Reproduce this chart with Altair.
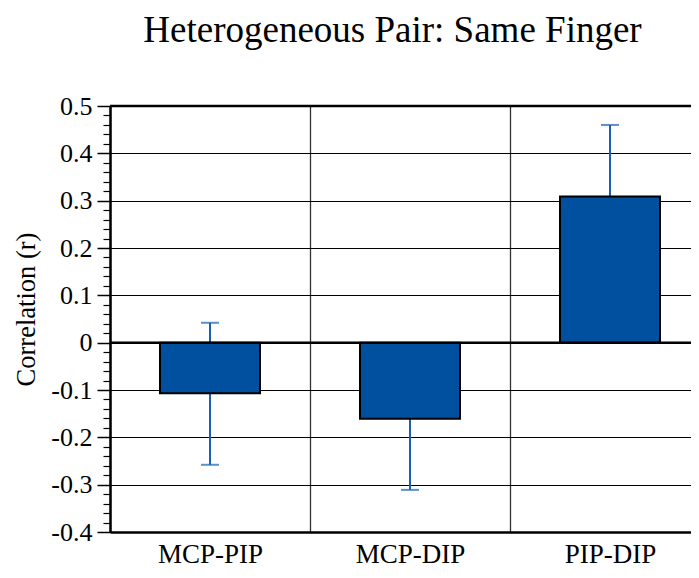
import altair as alt
import pandas as pd

pairs = ["MCP-PIP", "MCP-DIP", "PIP-DIP"]
corr = [-0.107, -0.161, 0.309]
err_lo = [-0.258, -0.311, 0.157]
err_hi = [0.042, -0.012, 0.460]

major_ticks = [-0.4, -0.3, -0.2, -0.1, 0.0, 0.1, 0.2, 0.3, 0.4, 0.5]
minor_ticks = [round(-0.4 + 0.02 * i, 2) for i in range(46)]
minor_ticks = [v for v in minor_ticks if abs(v * 10 - round(v * 10)) > 1e-6]
frame_lines = [0.0, 0.5]

FONT = "Liberation Serif"
BAR = "#00509f"
ERR = "#1a5fb2"

df = pd.DataFrame({"pair": pairs, "r": corr, "lo": err_lo, "hi": err_hi})
lines_df = pd.DataFrame({"y": frame_lines})

xscale = alt.Scale(domain=pairs, range=[0, 600], paddingInner=0, paddingOuter=0)
yscale = alt.Scale(domain=[-0.4, 0.5], nice=False, zero=False)

x_axis = alt.Axis(
    title=None, labelAngle=0, ticks=False, labelPadding=30,
    labelBaseline="alphabetic",
    labelFont=FONT, labelFontSize=27, labelColor="black",
    domainColor="black", domainWidth=2.5,
    grid=True, gridColor="#333333", gridWidth=1.3, tickBand="extent",
)
x_enc = alt.X("pair:N", scale=xscale, sort=pairs, axis=x_axis)

main_axis = alt.Axis(
    values=major_ticks,
    labelExpr="datum.value == 0 ? '0' : (datum.value < 0 ? '-' : '') + format(abs(datum.value), '.1f')",
    title="Correlation (r)", titleFont=FONT, titleFontSize=26.5,
    titleFontWeight="normal", titleColor="black", titlePadding=10, titleY=203,
    labelFont=FONT, labelFontSize=26, labelColor="black", labelPadding=5,
    tickSize=13, tickColor="black", tickWidth=1.5,
    domainColor="black", domainWidth=2.5,
    grid=True, gridColor="black", gridWidth=1.2, orient="left",
)
minor_axis = alt.Axis(
    values=minor_ticks, labels=False, title=None, domain=False, grid=False,
    tickSize=7, tickColor="black", tickWidth=1.2, orient="left",
)

base = alt.Chart(df)

err_rule = base.mark_rule(color=ERR, strokeWidth=2).encode(
    x=x_enc,
    y=alt.Y("lo:Q", scale=yscale, axis=minor_axis),
    y2="hi:Q",
)
cap_lo = base.mark_tick(color=ERR, thickness=2, size=18).encode(
    x=x_enc, y=alt.Y("lo:Q", scale=yscale, axis=None)
)
cap_hi = base.mark_tick(color=ERR, thickness=2, size=18).encode(
    x=x_enc, y=alt.Y("hi:Q", scale=yscale, axis=None)
)
bars = base.mark_bar(
    color=BAR, stroke="black", strokeWidth=2, width=alt.RelativeBandSize(0.5)
).encode(
    x=x_enc,
    y=alt.Y("r:Q", scale=yscale, axis=main_axis),
)
frame = alt.Chart(lines_df).mark_rule(color="black", strokeWidth=2.5).encode(
    y=alt.Y("y:Q", scale=yscale, axis=None)
)

chart = (
    alt.layer(err_rule, cap_lo, cap_hi, bars, frame)
    .resolve_axis(y="independent")
    .properties(
        width=581, height=426,
        autosize=alt.AutoSizeParams(type="none"),
        padding={"left": 102, "top": 98, "right": 0, "bottom": 38},
        title=alt.TitleParams(
            "Heterogeneous Pair: Same Finger", font=FONT, fontSize=37,
            fontWeight="normal", color="black", anchor="middle", dx=-8,
            baseline="alphabetic", offset=14,
        ),
    )
    .configure_view(stroke=None)
    .configure(background="white")
)

chart.save("out.html", embed_options={"renderer": "svg", "actions": False})
